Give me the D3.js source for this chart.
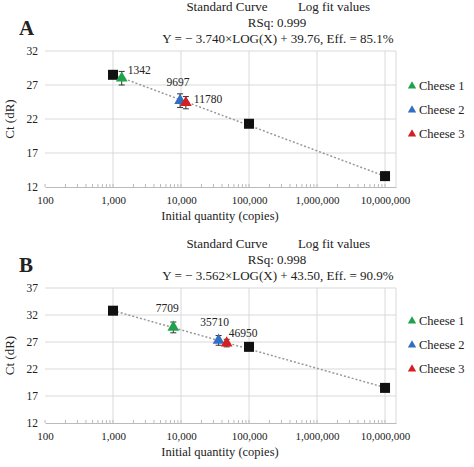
<!DOCTYPE html><html><head><meta charset="utf-8"><script src="https://cdn.jsdelivr.net/npm/d3@7"></script>
<style>body{margin:0;background:#fff}text{font-family:"Liberation Serif","DejaVu Serif",serif;fill:#222}</style></head><body>
<svg id="c" width="474" height="467"></svg>
<script>
const xTicks=[100,1000,10000,100000,1000000,10000000];
const seriesNames=["Cheese 1","Cheese 2","Cheese 3"];
const seriesColors=["#1fa34a","#2f6fc4","#d42020"];
// Panel A
const stdA_x=[1000,100000,10000000], stdA_y=[28.5,21.3,13.6];
const triA_x=[1342,9697,11780], triA_y=[28.0,24.7,24.4], triA_err=[1.0,1.0,0.9];
const fitA={slope:-3.740,icpt:39.76}, yTicksA=[12,17,22,27,32];
const txtA=["RSq: 0.999","Y = − 3.740×LOG(X) + 39.76, Eff. = 85.1%"];
// Panel B
const stdB_x=[1000,100000,10000000], stdB_y=[32.8,26.1,18.5];
const triB_x=[7709,35710,46950], triB_y=[29.7,27.3,26.8], triB_err=[1.0,0.9,0.7];
const fitB={slope:-3.562,icpt:43.50}, yTicksB=[12,17,22,27,32,37];
const txtB=["RSq: 0.998","Y = − 3.562×LOG(X) + 43.50, Eff. = 90.9%"];

const svg=d3.select("#c");
function panel(oy,letter,yTicks,sx,sy,tx,ty,te,fit,txt,top,bot,legY,lblOff){
  const g=svg.append("g").attr("transform",`translate(0,${oy})`);
  const x=d3.scaleLog().domain([100,14500000]).range([45,396]);
  const y=d3.scaleLinear().domain([yTicks[0],yTicks[yTicks.length-1]]).range([bot,top]);
  g.selectAll(".hg").data(yTicks.slice(1)).join("line").attr("x1",45).attr("x2",396).attr("y1",d=>y(d)).attr("y2",d=>y(d)).attr("stroke","#d9d9d9");
  g.selectAll(".vg").data(xTicks.slice(1)).join("line").attr("x1",d=>x(d)).attr("x2",d=>x(d)).attr("y1",top).attr("y2",bot).attr("stroke","#d9d9d9");
  g.append("line").attr("x1",396).attr("x2",396).attr("y1",top).attr("y2",bot).attr("stroke","#d9d9d9");
  const xa=g.append("g").attr("transform",`translate(0,${bot})`).call(d3.axisBottom(x).tickValues(xTicks).tickFormat(d3.format(",")).tickSize(0).tickPadding(9));
  xa.select(".domain").attr("stroke","#bbb");
  xa.selectAll("text").style("font-size","11px").style("font-family","Liberation Serif");
  const minor=[];for(let d=100;d<1e7;d*=10)for(let k=2;k<10;k++)minor.push(d*k);
  g.selectAll(".mt").data(minor.concat(xTicks)).join("line").attr("x1",d=>x(d)).attr("x2",d=>x(d)).attr("y1",bot-3).attr("y2",bot).attr("stroke","#bbb");
  g.selectAll(".yl").data(yTicks).join("text").attr("x",38).attr("y",d=>y(d)+4).attr("text-anchor","end").style("font-size","11.5px").text(d=>d);
  g.append("line").attr("x1",x(1000)).attr("y1",y(fit.slope*3+fit.icpt)).attr("x2",x(1e7)).attr("y2",y(fit.slope*7+fit.icpt)).attr("stroke","#999").attr("stroke-width",1.5).attr("stroke-dasharray","2,2");
  g.selectAll(".sq").data(sx).join("rect").attr("x",(d)=>x(d)-5).attr("y",(d,i)=>y(sy[i])-5).attr("width",10).attr("height",10).attr("fill","#111");
  tx.forEach((v,i)=>{
    const cx=x(v),cy=y(ty[i]);
    g.append("line").attr("x1",cx).attr("x2",cx).attr("y1",y(ty[i]+te[i])).attr("y2",y(ty[i]-te[i])).attr("stroke","#333");
    [ty[i]+te[i],ty[i]-te[i]].forEach(e=>g.append("line").attr("x1",cx-3).attr("x2",cx+3).attr("y1",y(e)).attr("y2",y(e)).attr("stroke","#333"));
    g.append("path").attr("d",d3.symbol(d3.symbolTriangle,60)()).attr("transform",`translate(${cx},${cy})`).attr("fill",seriesColors[i]);
    const o=lblOff[i];
    g.append("text").attr("x",cx+o[0]).attr("y",cy+o[1]).attr("text-anchor",o[2]).style("font-size","11.5px").text(String(v));
  });
  g.append("text").attr("x",14).attr("y",(top+bot)/2).attr("transform",`rotate(-90,14,${(top+bot)/2})`).attr("text-anchor","middle").style("font-size","13px").text("Ct (dR)");
  g.append("text").attr("x",220).attr("y",bot+33).attr("text-anchor","middle").style("font-size","12.5px").text("Initial quantity (copies)");
  g.append("text").attr("x",227).attr("y",top-40).attr("text-anchor","middle").style("font-size","13px").text("Standard Curve");
  g.append("text").attr("x",334).attr("y",top-40).attr("text-anchor","middle").style("font-size","13px").text("Log fit values");
  g.append("text").attr("x",277).attr("y",top-24).attr("text-anchor","middle").style("font-size","13px").text(txt[0]);
  g.append("text").attr("x",278).attr("y",top-8).attr("text-anchor","middle").style("font-size","13px").text(txt[1]);
  g.append("text").attr("x",19).attr("y",top-16).style("font-size","21px").style("font-weight","bold").text(letter);
  seriesNames.forEach((n,i)=>{
    g.append("path").attr("d",d3.symbol(d3.symbolTriangle,30)()).attr("transform",`translate(412,${legY+i*24-4})`).attr("fill",seriesColors[i]);
    g.append("text").attr("x",419).attr("y",legY+i*24).style("font-size","12.5px").text(n);
  });
}
panel(0,"A",yTicksA,stdA_x,stdA_y,triA_x,triA_y,triA_err,fitA,txtA,51,187,90,[[6,-4,"start"],[-2,-15,"middle"],[8,0,"start"]]);
panel(230,"B",yTicksB,stdB_x,stdB_y,triB_x,triB_y,triB_err,fitB,txtB,58,193,95,[[-6,-15,"middle"],[-4,-14,"middle"],[2,-6,"start"]]);
</script></body></html>
